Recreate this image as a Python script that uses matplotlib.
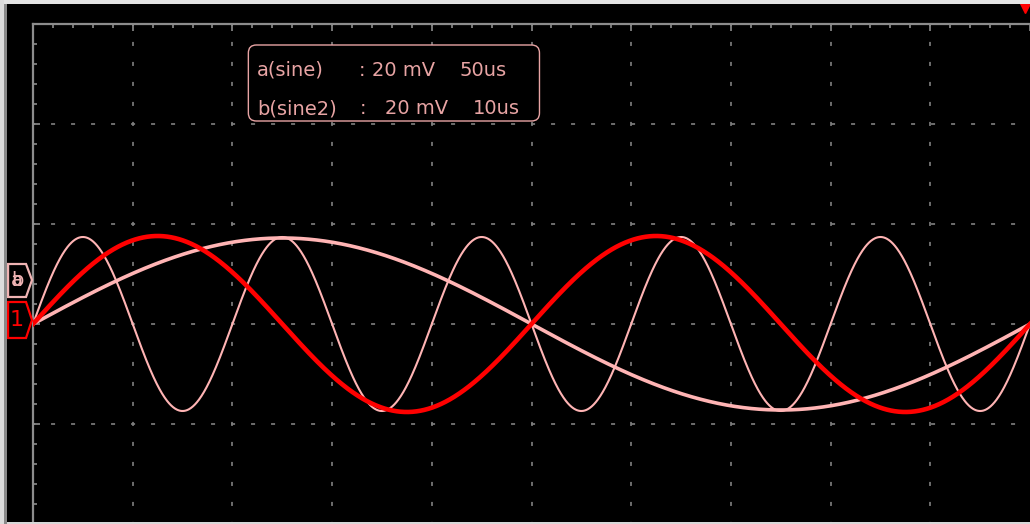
import numpy as np
import matplotlib.pyplot as plt
from matplotlib.patches import FancyBboxPatch, Polygon, Rectangle

plt.rcParams['lines.scale_dashes'] = False
plt.rcParams['font.family'] = ['DejaVu Sans']

# traces (x in divisions, y in mV)
trace_names = ['a', 'b', '1']
amplitudes_mv = [17.2, 17.4, 17.6]
periods_div = [10.0, 2.0, 5.0]
trace_colors = ['#ffb4b4', '#ffb4b4', '#ff0000']
trace_widths = [2.6, 1.5, 3.3]

# info box text
legend_names = ['a(sine)', 'b(sine2)']
legend_volts = ['20 mV', '20 mV']
legend_times = ['50us', '10us']

mv_per_div = 20
x_divs = np.arange(1, 10)
y_grid_mv = [-20, 0, 20, 40]

GRID = '#808080'
TEXT = '#e8a4a4'


# pixel -> data helpers (screen grid is 100 px per division)
def px_x(x):
    return (x - 33) / 100.0


def px_y(y):
    return 60 - (y - 24) * mv_per_div / 100.0


fig = plt.figure(figsize=(10.30, 5.24), dpi=100, facecolor='black')
ax = fig.add_axes([33 / 1030, 0, 997 / 1030, 500 / 524])
ax.set_facecolor('black')
ax.set_xlim(0, 9.97)
ax.set_ylim(-40, 60)

# dotted graticule
for xg in x_divs:
    ax.plot([xg, xg], [-40, 60], color=GRID, lw=1.2, ls=(1.4, (2.9, 11.5)), zorder=1)
for yg in y_grid_mv:
    ax.plot([0, 10], [yg, yg], color=GRID, lw=1.2, ls=(1.4, (2.9, 11.5)), zorder=1)

# frame + ticks
for s in ['right', 'bottom']:
    ax.spines[s].set_visible(False)
for s in ['left', 'top']:
    ax.spines[s].set_color('#8c8c8c')
    ax.spines[s].set_linewidth(1.6)
ax.xaxis.tick_top()
ax.set_xticks(np.arange(0, 10.01, 1))
ax.set_xticks(np.arange(0, 10.01, 0.2), minor=True)
ax.set_yticks(np.arange(-40, 61, 20))
ax.set_yticks(np.arange(-40, 61, 4), minor=True)
ax.tick_params(which='both', direction='in', color='#8c8c8c', width=1.2,
               labelleft=False, labeltop=False, labelbottom=False)
ax.tick_params(which='major', length=5)
ax.tick_params(which='minor', length=3)

# the three sine traces
t = np.linspace(0, 10, 2001)
for name, amp, per, col, lw in zip(trace_names, amplitudes_mv, periods_div, trace_colors, trace_widths):
    ax.plot(t, amp * np.sin(2 * np.pi * t / per), color=col, lw=lw, zorder=3 if name == '1' else 2)

# info box
box = FancyBboxPatch((px_x(249), px_y(121)), px_x(541) - px_x(249), px_y(45) - px_y(121),
                     boxstyle='round,pad=0,rounding_size=0.08', mutation_aspect=20,
                     fc='black', ec=TEXT, lw=1.0, zorder=4)
ax.add_patch(box)
row_y = [70, 109]
colon_x = [360, 361]
volt_x = [373, 386]
time_x = [461, 474]
for i in range(2):
    y = px_y(row_y[i])
    kw = dict(color=TEXT, fontsize=14, va='center', ha='left', zorder=5)
    ax.text(px_x(258), y, legend_names[i], **kw)
    ax.text(px_x(colon_x[i]), y, ':', **kw)
    ax.text(px_x(volt_x[i]), y, legend_volts[i], **kw)
    ax.text(px_x(time_x[i]), y, legend_times[i], **kw)

# channel markers on the left edge
mk_b = Polygon([(px_x(8), px_y(264)), (px_x(26), px_y(264)), (px_x(32), px_y(280)),
                (px_x(26), px_y(297)), (px_x(8), px_y(297))],
               closed=True, fc='black', ec='#f0b4b4', lw=1.6, clip_on=False, zorder=6)
ax.add_patch(mk_b)
for ch in ['b', 'a']:
    ax.text(px_x(17), px_y(280), ch, color='#f0b4b4', fontsize=14, ha='center', va='center',
            clip_on=False, zorder=7)
mk_1 = Polygon([(px_x(8), px_y(302)), (px_x(26), px_y(302)), (px_x(32), px_y(320)),
                (px_x(26), px_y(338)), (px_x(8), px_y(338))],
               closed=True, fc='black', ec='#ff0000', lw=1.6, clip_on=False, zorder=6)
ax.add_patch(mk_1)
ax.text(px_x(17), px_y(320), '1', color='#ff0000', fontsize=16, ha='center', va='center',
        clip_on=False, zorder=7)

# trigger marker top right
ax.plot([px_x(1028)], [px_y(7)], marker='v', ms=8, color='#ff0000', clip_on=False, zorder=7)

# window borders
fig.patches.append(Rectangle((0, 520 / 524), 1, 4 / 524, transform=fig.transFigure,
                             fc='#e4e4e4', ec='none', zorder=10))
fig.patches.append(Rectangle((0, 0), 1, 2 / 524, transform=fig.transFigure,
                             fc='#d8d8d8', ec='none', zorder=10))
fig.patches.append(Rectangle((0, 0), 4 / 1030, 1, transform=fig.transFigure,
                             fc='#dcdcdc', ec='none', zorder=10))
fig.patches.append(Rectangle((4 / 1030, 0), 3 / 1030, 520 / 524, transform=fig.transFigure,
                             fc='#8a8a8a', ec='none', zorder=10))

fig.savefig('out.png', dpi=100, facecolor='black')
